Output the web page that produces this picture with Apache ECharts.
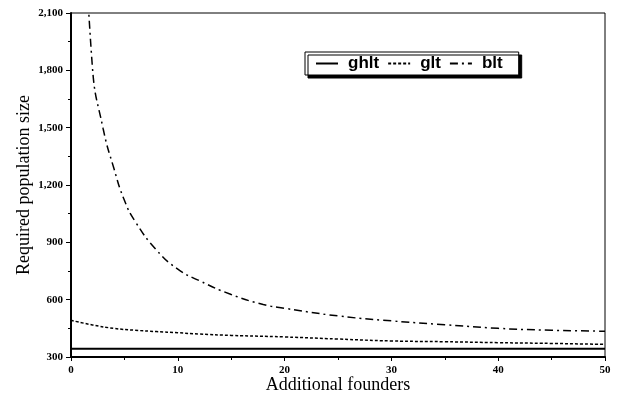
<!DOCTYPE html>
<html>
<head>
<meta charset="utf-8">
<script src="https://cdn.jsdelivr.net/npm/echarts@6/dist/echarts.min.js"></script>
<style>
    html, body { margin: 0; padding: 0; background: #fff; }
    #chart { width: 618px; height: 396px; }
</style>
</head>
<body>
<div id="chart"></div>
<script>
    // values
    var seriesNames = ['ghlt', 'glt', 'blt'];
    var ghltX = [0, 10, 20, 30, 40, 50];
    var ghltY = [343, 343, 343, 343, 343, 343];
    var gltX = [0, 2, 4, 6, 8, 10, 12, 15, 20, 25, 30, 35, 40, 45, 50];
    var gltY = [492, 468, 450, 440, 433, 427, 420, 413, 405, 394, 384, 380, 375, 371, 366];
    var bltX = [1, 2, 3, 4, 5, 6, 8, 10, 12, 15, 18, 20, 25, 30, 35, 40, 45, 50];
    var bltY = [3000, 1820, 1497, 1290, 1120, 1010, 860, 760, 700, 627, 575, 555, 515, 489, 469, 450, 440, 435];

    function pairs(xs, ys) {
        var out = [];
        for (var i = 0; i < xs.length; i++) out.push([xs[i], ys[i]]);
        return out;
    }

    var chart = echarts.init(document.getElementById('chart'), null, { renderer: 'canvas' });

    var serif = '"Liberation Serif", "DejaVu Serif", serif';

    chart.setOption({
        animation: false,
        backgroundColor: '#fff',
        grid: {
            left: 71, right: 13, top: 13, bottom: 39,
            outerBoundsMode: 'none',
            show: true, borderColor: '#000', borderWidth: 1
        },
        legend: {
            data: seriesNames,
            left: 305, top: 52,
            orient: 'horizontal',
            itemWidth: 22, itemHeight: 10, itemGap: 8,
            padding: [3, 16, 3, 10],
            backgroundColor: '#fff',
            borderColor: '#000', borderWidth: 1,
            shadowColor: '#000', shadowBlur: 0, shadowOffsetX: 3, shadowOffsetY: 3,
            itemStyle: { color: 'transparent', borderColor: 'transparent', borderWidth: 0, opacity: 0 },
            textStyle: { fontFamily: '"Liberation Sans", Arial, sans-serif', fontWeight: 'bold', fontSize: 17, color: '#000', padding: [0, 0, 0, 5] }
        },
        xAxis: {
            type: 'value',
            min: 0, max: 50, interval: 10,
            name: 'Additional founders',
            nameLocation: 'middle', nameGap: 19, nameMoveOverlap: false,
            nameTextStyle: { fontFamily: serif, fontSize: 18, color: '#000' },
            axisLine: { lineStyle: { color: '#000', width: 2 } },
            axisTick: { length: 4, lineStyle: { color: '#000' } },
            minorTick: { show: true, splitNumber: 2, length: 3, lineStyle: { color: '#000' } },
            axisLabel: { fontFamily: serif, fontWeight: 'bold', fontSize: 11, color: '#000', margin: 8 },
            splitLine: { show: false }
        },
        yAxis: {
            type: 'value',
            min: 300, max: 2100, interval: 300,
            name: 'Required population size',
            nameLocation: 'middle', nameGap: 38, nameMoveOverlap: false,
            nameTextStyle: { fontFamily: serif, fontSize: 18, color: '#000' },
            axisLine: { show: true, lineStyle: { color: '#000', width: 2 } },
            axisTick: { show: true, length: 5, lineStyle: { color: '#000' } },
            minorTick: { show: true, splitNumber: 2, length: 3, lineStyle: { color: '#000' } },
            axisLabel: {
                fontFamily: serif, fontWeight: 'bold', fontSize: 11, color: '#000', margin: 8,
                formatter: function (v) { return v.toLocaleString('en-US'); }
            },
            splitLine: { show: false }
        },
        series: [
            {
                name: 'ghlt', type: 'line', symbol: 'none', smooth: true,
                lineStyle: { color: '#000', width: 2, type: 'solid' },
                itemStyle: { color: '#000' },
                data: pairs(ghltX, ghltY)
            },
            {
                name: 'glt', type: 'line', symbol: 'none', smooth: true,
                lineStyle: { color: '#000', width: 1.5, type: [3, 2] },
                itemStyle: { color: '#000' },
                data: pairs(gltX, gltY)
            },
            {
                name: 'blt', type: 'line', symbol: 'none', smooth: true,
                lineStyle: { color: '#000', width: 1.5, type: [8, 4, 2, 4] },
                itemStyle: { color: '#000' },
                data: pairs(bltX, bltY)
            }
        ]
    });
</script>
</body>
</html>
